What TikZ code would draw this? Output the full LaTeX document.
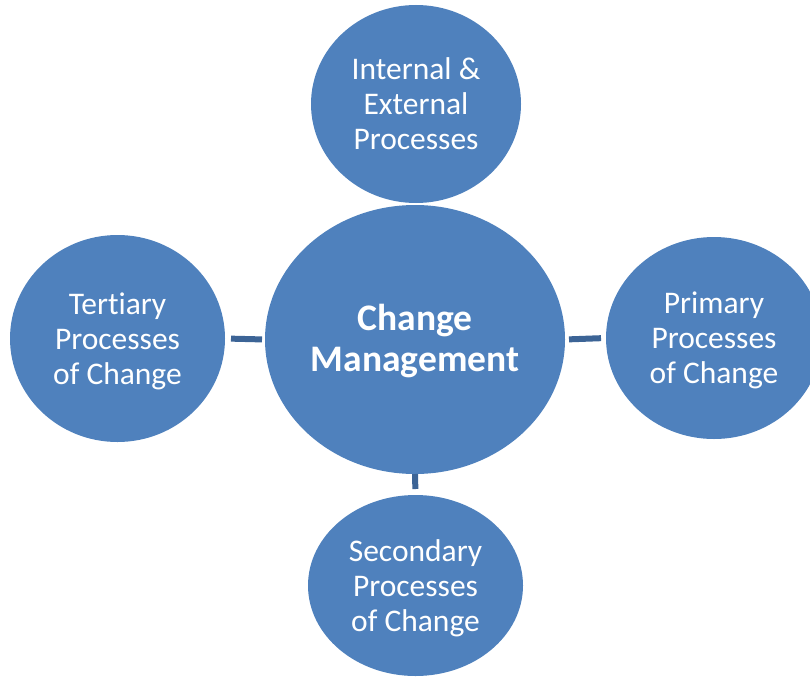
\documentclass[tikz,border=0pt]{standalone}
\usepackage{fontspec}
\setmainfont{Carlito}[Ligatures=NoCommon]
\usetikzlibrary{shapes.geometric}
\definecolor{cycleBlue}{RGB}{79,129,189}
\definecolor{linkBlue}{RGB}{60,100,150}
\newcommand{\satstrut}{\rule{0pt}{29.5pt}}
\newcommand{\hubstrut}{\rule{0pt}{36pt}}
\begin{document}
\begin{tikzpicture}[x=1pt,y=-1pt,
  bubble/.style={ellipse,fill=cycleBlue,draw=none,inner sep=0pt,outer sep=0pt,
    text=white,align=center},
  sattext/.style={font=\fontsize{31.5}{35}\selectfont,
    execute at end node={\rule[-8.5pt]{0pt}{8.5pt}}},
  hubtext/.style={font=\bfseries\fontsize{37.5}{41}\selectfont,
    execute at end node={\rule[-12.5pt]{0pt}{12.5pt}}},
  link/.style={draw=linkBlue,line width=6pt}]
\useasboundingbox (0,0) rectangle (810,677);
% hub
\node[bubble,hubtext,minimum width=300pt,minimum height=269pt] (core) at (415,339.5) {\hubstrut Change\\Management};
% satellites
\node[bubble,sattext,minimum width=210pt,minimum height=198pt] (internal) at (416,104) {\satstrut Internal \&\\External\\Processes};
\node[bubble,sattext,minimum width=215pt,minimum height=207pt] (tertiary) at (117.5,338.5) {\satstrut Tertiary\\Processes\\of Change};
\node[bubble,sattext,minimum width=216pt,minimum height=202pt] (primary) at (714,338) {\satstrut Primary\\Processes\\of Change};
\node[bubble,sattext,minimum width=215pt,minimum height=181pt] (secondary) at (415.5,585.5) {\satstrut Secondary\\Processes\\of Change};
% links
\draw[link,shorten <=6pt,shorten >=3pt] (tertiary.east) -- (core.west);
\draw[link,shorten <=4pt,shorten >=5pt] (core.east) -- (primary.west);
\draw[link,shorten >=6pt] (core.south) -- (secondary.north);
\end{tikzpicture}
\end{document}
